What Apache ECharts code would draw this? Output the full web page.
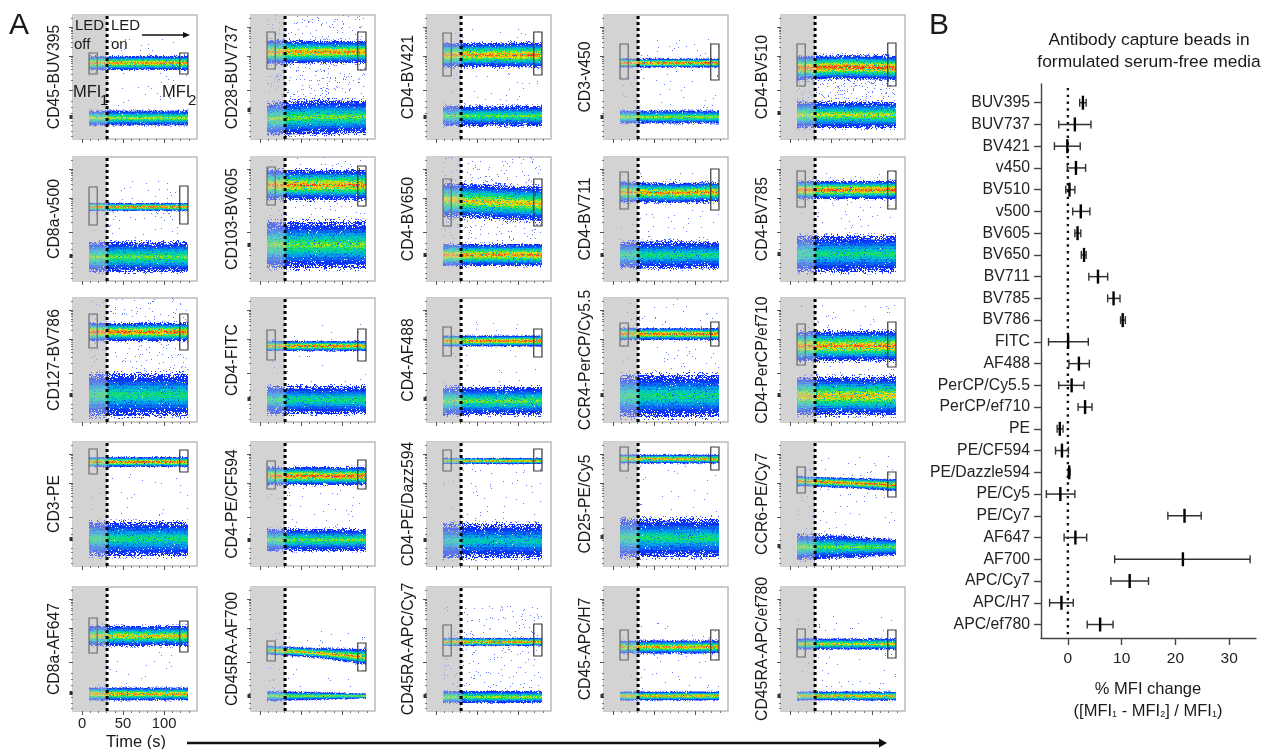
<!DOCTYPE html>
<html><head><meta charset="utf-8">
<style>html,body{margin:0;padding:0;background:#fff}#c{width:1263px;height:749px;filter:blur(0.35px)}</style>
<script src="https://cdn.jsdelivr.net/npm/echarts@6/dist/echarts.min.js"></script>
</head><body><div id="c"></div>
<script>
const FONT='"Liberation Sans",Arial,sans-serif';
const panelNames=['CD45-BUV395','CD28-BUV737','CD4-BV421','CD3-v450','CD4-BV510','CD8a-v500','CD103-BV605','CD4-BV650','CD4-BV711','CD4-BV785','CD127-BV786','CD4-FITC','CD4-AF488','CCR4-PerCP/Cy5.5','CD4-PerCP/ef710','CD3-PE','CD4-PE/CF594','CD4-PE/Dazz594','CD25-PE/Cy5','CCR6-PE/Cy7','CD8a-AF647','CD45RA-AF700','CD45RA-APC/Cy7','CD45-APC/H7','CD45RA-APC/ef780'];
// band centre and half height, read at t = 8.5, 70, 129 s (axis channel units)
const bandTimes=[8.5,70,129];
const hiCentre=[[76,76,76],[87,87,87],[84,84,84],[76,76,76],[71,72,71],[74,74,74],[96,96,96],[81,79,77],[89,88,89],[91,91,91],[90,90,90],[76,76,76],[81,81,81],[88,88,88],[76,76,76],[104,104,104],[90,90,90],[105,105,105],[107,107,107],[85,83,81],[75,75,75],[61,58,54],[69,69,69],[64,64,64],[67,67,67]];
const hiHalf=[[7,7,7],[12,11,11],[12,12,12.5],[4.5,4.5,4.5],[12,12,12],[4,4,4],[15,15,15],[17,17,17],[10,10,10],[9,9,9],[9,9,9],[5,5,5],[5.5,5.5,5.5],[6,6,6],[15,15,15],[5,5,5],[9,9,9],[3,3,3],[4.5,4.5,4.5],[5,5,6],[10,10,10],[4.5,5,8],[4,4,4],[6.5,6.5,6.5],[5.5,5.5,5.5]];
const loCentre=[[21,21,21],[20,22,22],[23,23,23],[22,22,22],[24,24,24],[24,24,24],[36,36,36],[26,26,26],[26,26,26],[27,27,27],[27,27,27],[22,22,22],[21,21,21],[26,26,26],[26,26,26],[27,27,27],[26,26,26],[25,25,25],[28,28,28],[19,19,19],[17,17,17],[15,15,15],[14,14,14],[15,15,15],[15,15,15]];
const loHalf=[[7.5,7.5,7.5],[16,17,16],[10,10,10],[6.5,6.5,6.5],[13,13,13],[15,15,15],[23,23,23],[11,11,11],[13,14,13],[18,18,18],[21,21,21],[14,14,14],[14,14,14],[21,21,21],[19,19,19],[17,17,17],[11,11,11],[17,17,17],[19,19,19],[13,11,8],[6.5,6.5,6.5],[5,4,2.5],[6,6,6],[4.5,4.5,4.5],[4.5,4.5,4.5]];
const hiHeat=[10,10,10,11,11,11,10,9,10,11,11,11,11,11,10,11,11,10,10,11,9,10,11,10,9];
const loHeat=[8,7,7,8,8,7,7,10,6,6,6,6,7,6,9,6,7,5,6,7,10,8,8,10,10];
// gates as [low, high] on the same axis
const gate1=[[65,86],[70,107],[63,106],[60,95],[53,95],[56,94],[76,114],[55,102],[72,109],[74,110],[74,108],[62,92],[66,95],[76,99],[57,98],[92,117],[77,105],[95,116],[95,119],[73,99],[58,93],[50,70],[55,86],[51,81],[54,82]];
const gate2=[[65,86],[69,107],[64,107],[59,95],[53,96],[57,95],[75,115],[55,102],[71,112],[72,110],[72,108],[61,93],[65,93],[76,100],[55,100],[94,116],[77,106],[95,117],[96,119],[69,94],[59,90],[40,68],[55,87],[51,81],[53,81]];
const zeroTick=[22,29,22,22,26,25,36,26,26,27,27,23,23,27,27,27,26,26,29,20,18,15,15,15,15];
// range of rare scattered events in each panel: [low, high, share of pixels]
const scatterRange=[[30,100,.01],[40,124,.04],[30,110,.01],[30,100,.01],[30,62,.07],[40,100,.01],[55,124,.015],[40,124,.035],[40,110,.01],[42,110,.012],[46,124,.025],[36,100,.005],[36,100,.005],[46,124,.01],[40,118,.01],[45,100,.005],[38,100,.007],[44,110,.008],[50,112,.005],[34,110,.01],[25,90,.004],[22,80,.007],[22,105,.025],[22,90,.007],[22,95,.007]];
const gateTimes=[[8.5,18.5],[119,129]];
const ledOn=30.5;
const majorY=[49,83,112];
const minorY=[3,8,14,18,26,32,38,59,65,70,73,75.5,78,80,81.5,92,97,100.5,103,105.5,107.5,109,110.5,121];
const majorX=[0,50,100];
const minorX=[10,20,30,40,60,70,80,90,110,120,130];
const forestCats=['BUV395','BUV737','BV421','v450','BV510','v500','BV605','BV650','BV711','BV785','BV786','FITC','AF488','PerCP/Cy5.5','PerCP/ef710','PE','PE/CF594','PE/Dazzle594','PE/Cy5','PE/Cy7','AF647','AF700','APC/Cy7','APC/H7','APC/ef780'];
const forestMean=[2.8,1.3,-0.1,1.5,0.3,2.4,1.8,3.0,5.6,8.5,10.2,0.05,2.05,0.7,3.2,-1.5,-1.1,0.25,-1.4,21.7,1.4,21.4,11.5,-1.2,6.0];
const forestLow=[2.2,-1.7,-2.5,-0.1,-0.4,0.9,1.3,2.5,3.9,7.4,9.8,-3.6,0.2,-1.7,1.9,-2.0,-2.3,0.05,-4.0,18.6,-0.7,8.7,8.0,-3.4,3.6];
const forestHigh=[3.4,4.3,2.3,3.3,1.3,4.1,2.4,3.4,7.4,9.7,10.7,3.8,4.0,3.0,4.5,-0.9,0.1,0.4,1.3,24.8,3.5,33.9,15.0,1.0,8.4];
const forestTicks=forestCats.map((_,i)=>i);

const colLeft=[73,251,427,604,781],rowTop=[15,157,298,442,587],PW=124,PH=124;

// Speckled fill textures: a fixed pixel hash, so a density colour only partly covers what lies under it.
const pixHash=(x,y,s)=>{let n=(Math.imul(x+1,73856093)^Math.imul(y+1,19349663)^Math.imul(s+1,83492791))|0;n=Math.imul(n^(n>>>15),0x2c1b3c6d);n=Math.imul(n^(n>>>12),0x297a2d39);n^=n>>>15;return (n>>>0)/4294967296;};
const tileCache={};
function tile(color,share,seed){
  const key=color+share+seed;
  if(tileCache[key])return tileCache[key];
  const cv=document.createElement('canvas');cv.width=cv.height=128;
  const ctx=cv.getContext('2d');ctx.fillStyle=color;
  for(let x=0;x<128;x++)for(let y=0;y<128;y++)if(pixHash(x,y,seed)<share)ctx.fillRect(x,y,1,1);
  return tileCache[key]={image:cv,repeat:'repeat'};
}
const ramp=[['#1a3cff',.15],['#0a2cff',.55],['#0a38f8',.8],['#0a70f0',.75],['#00a8e0',.75],['#00d0b0',.7],['#1ee060',.6],['#96e822',.5],['#f0e012',.5],['#ff9a12',.45],['#f03c10',.35]];

const grids=[],xAxes=[],yAxes=[],series=[];
panelNames.forEach((name,i)=>{
  const c=i%5,r=Math.floor(i/5),g=grids.length,xa=xAxes.length,ya=yAxes.length;
  grids.push({left:colLeft[c],top:rowTop[r],width:PW,height:PH,show:true,borderColor:'#bcbcbc',borderWidth:1.5,backgroundColor:'#fff'});
  const labelled=i===20;
  xAxes.push({type:'value',gridIndex:g,position:'bottom',min:-11,max:140,splitLine:{show:false},axisLine:{show:false,onZero:false},
    axisTick:{show:true,length:4,lineStyle:{color:'#555',width:1},customValues:majorX},
    axisLabel:labelled?{show:true,customValues:majorX,fontFamily:FONT,fontSize:14.8,color:'#222',margin:5}:{show:false}});
  xAxes.push({type:'value',gridIndex:g,position:'bottom',min:-11,max:140,splitLine:{show:false},axisLine:{show:false,onZero:false},
    axisTick:{show:true,length:2,lineStyle:{color:'#777',width:1},customValues:minorX},axisLabel:{show:false}});
  yAxes.push({type:'value',gridIndex:g,position:'left',min:0,max:124,splitLine:{show:false},axisLine:{show:false,onZero:false},
    axisTick:{show:true,length:4,lineStyle:{color:'#555',width:1},customValues:majorY},axisLabel:{show:false},
    name:name,nameLocation:'middle',nameGap:10,nameRotate:90,nameTextStyle:{fontFamily:FONT,fontSize:15.8,color:'#1a1a1a'}});
  yAxes.push({type:'value',gridIndex:g,position:'left',min:0,max:124,splitLine:{show:false},axisLine:{show:false,onZero:false},
    axisTick:{show:true,length:2,lineStyle:{color:'#777',width:1},customValues:minorY},axisLabel:{show:false}});
  const ax={xAxisIndex:xa,yAxisIndex:ya,silent:true,animation:false};
  const offRect=(fill,z)=>({...ax,type:'custom',z,data:[[-11,0]],encode:{x:0,y:1},clip:true,renderItem:(p,api)=>{
    const a=api.coord([-11,124]),b=api.coord([ledOn,0]);
    return {type:'rect',shape:{x:a[0],y:a[1],width:b[0]-a[0],height:b[1]-a[1]},style:{fill}};
  }});
  series.push(offRect('#d8d8d8',1));
  const [sLow,sHigh,sShare]=scatterRange[i];
  series.push({...ax,type:'custom',z:2,data:[[bandTimes[1],sLow]],encode:{x:0,y:1},clip:true,renderItem:(p,api)=>{
    const a=api.coord([bandTimes[0],sHigh]),b=api.coord([bandTimes[2],sLow]);
    return {type:'rect',shape:{x:a[0],y:a[1],width:b[0]-a[0],height:b[1]-a[1]},style:{fill:tile('#5f7cff',sShare,99+i)}};
  }});
  [[hiCentre[i],hiHalf[i],hiHeat[i]],[loCentre[i],loHalf[i],loHeat[i]]].forEach(([cen,hal,heat],b)=>{
    series.push({...ax,type:'custom',z:3,data:[[bandTimes[1],cen[1]]],encode:{x:0,y:1},clip:true,renderItem:(p,api)=>{
      const children=[];
      for(let k=0;k<=heat;k++){
        const col=ramp[Math.min(k,ramp.length-1)];
        const f=k===0?1.14:Math.pow(1-(k-1)/heat,1.15),top=[],bot=[];
        bandTimes.forEach((t,j)=>{top.push(api.coord([t,cen[j]+hal[j]*f]));bot.unshift(api.coord([t,cen[j]-hal[j]*f]));});
        children.push({type:'polygon',shape:{points:top.concat(bot)},style:{fill:tile(col[0],col[1],k+1+i*13+b*7)}});
      }
      return {type:'group',children};
    }});
  });
  series.push(offRect('rgba(205,205,205,0.42)',4));
  series.push({...ax,type:'line',z:5,symbol:'none',data:[[ledOn,0],[ledOn,124]],lineStyle:{color:'#000',width:3,type:[3,3]}});
  series.push({...ax,type:'custom',z:6,data:[[gateTimes[0][0],gate1[i][0]]],encode:{x:0,y:1},renderItem:(p,api)=>{
    const box=(ts,gt,col)=>{const a=api.coord([ts[0],gt[1]]),b=api.coord([ts[1],gt[0]]);
      return {type:'rect',shape:{x:a[0],y:a[1],width:b[0]-a[0],height:b[1]-a[1]},style:{fill:'none',stroke:col,lineWidth:1.2}};};
    return {type:'group',children:[box(gateTimes[0],gate1[i],'#6b6b6b'),box(gateTimes[1],gate2[i],'#3a3a3a')]};
  }});
  series.push({...ax,type:'scatter',z:7,clip:false,symbol:'rect',symbolSize:[3,4],symbolOffset:[-2,0],itemStyle:{color:'#000'},data:[[-11,zeroTick[i]]]});
});

// Panel B
const gB=grids.length,xB=xAxes.length,yB=yAxes.length;
grids.push({left:1041,top:84,width:215,height:554,show:false});
xAxes.push({type:'value',gridIndex:gB,min:-5,max:35,splitLine:{show:false},
  axisLine:{show:true,onZero:false,lineStyle:{color:'#444',width:1.4}},
  axisTick:{show:true,length:7,lineStyle:{color:'#444',width:1.4},customValues:[0,10,20,30]},
  axisLabel:{customValues:[0,10,20,30],fontFamily:FONT,fontSize:15.5,color:'#222',margin:13}});
yAxes.push({type:'value',gridIndex:gB,inverse:true,min:-0.86,max:24.62,splitLine:{show:false},
  axisLine:{show:true,onZero:false,lineStyle:{color:'#444',width:1.4}},
  axisTick:{show:true,length:7,lineStyle:{color:'#444',width:1.4},customValues:forestTicks},
  axisLabel:{customValues:forestTicks,formatter:v=>forestCats[v]||'',fontFamily:FONT,fontSize:15.8,color:'#222',margin:11}});
const axB={xAxisIndex:xB,yAxisIndex:yB,silent:true,animation:false};
series.push({...axB,type:'line',z:3,symbol:'none',data:[[0,-0.68],[0,24.6]],lineStyle:{color:'#111',width:2.4,type:[2.4,4.4]}});
series.push({...axB,type:'custom',z:5,clip:false,encode:{x:0,y:3},
  data:forestMean.map((m,i)=>[m,forestLow[i],forestHigh[i],i]),
  renderItem:(p,api)=>{
    const y=api.value(3),m=api.coord([api.value(0),y]),l=api.coord([api.value(1),y]),h=api.coord([api.value(2),y]);
    const seg=(x1,y1,x2,y2,w,col)=>({type:'line',shape:{x1,y1,x2,y2},style:{stroke:col,lineWidth:w}});
    return {type:'group',children:[
      seg(l[0],l[1],h[0],h[1],1.5,'#333'),
      seg(l[0],l[1]-4,l[0],l[1]+4,1.4,'#333'),
      seg(h[0],h[1]-4,h[0],h[1]+4,1.4,'#333'),
      seg(m[0],m[1]-7,m[0],m[1]+7,2.4,'#000')]};
  }});

const txt=(text,x,y,size,extra)=>({type:'text',z:50,silent:true,style:Object.assign({text,x,y,fill:'#1a1a1a',font:size+'px '+FONT,textVerticalAlign:'middle'},extra||{})});
const arrow=(x1,x2,y,w,hw,hl)=>[{type:'line',z:50,silent:true,shape:{x1,y1:y,x2:x2-hl+1,y2:y},style:{stroke:'#111',lineWidth:w}},
  {type:'polygon',z:50,silent:true,shape:{points:[[x2,y],[x2-hl,y-hw],[x2-hl,y+hw]]},style:{fill:'#111'}}];
const mid={textAlign:'center'};
const graphics=[
  txt('A',9,26,30),txt('B',929,26,30),
  txt('LED',75,26,15),txt('off',74,45,15),txt('LED',111,26,15),txt('on',111,45,15),
  ...arrow(142,190,35,1.4,3,7),
  txt('MFI',73,92,16.5),txt('1',100,101,15),txt('MFI',162,92,16.5),txt('2',188,101,15),
  txt('Time (s)',136,742,16.5,mid),
  ...arrow(187,887,743,2.6,4.5,8),
  txt('Antibody capture beads in',1149,40,17.4,mid),
  txt('formulated serum-free media',1149,62,17.4,mid),
  txt('% MFI change',1148,689,16.5,mid),
  {type:'text',z:50,silent:true,style:{x:1148,y:711,textAlign:'center',textVerticalAlign:'middle',
    text:'([MFI{s|1} - MFI{s|2}] / MFI{s|1})',fill:'#1a1a1a',font:'16.5px '+FONT,
    rich:{s:{fontSize:9,fontFamily:FONT,verticalAlign:'bottom',lineHeight:16,padding:[7,0,0,0],fill:'#1a1a1a'}}}}
];
const chart=echarts.init(document.getElementById('c'),null,{renderer:'canvas',width:1263,height:749});
chart.setOption({animation:false,backgroundColor:'#fff',grid:grids,xAxis:xAxes,yAxis:yAxes,series,graphic:{elements:graphics}});
</script></body></html>
